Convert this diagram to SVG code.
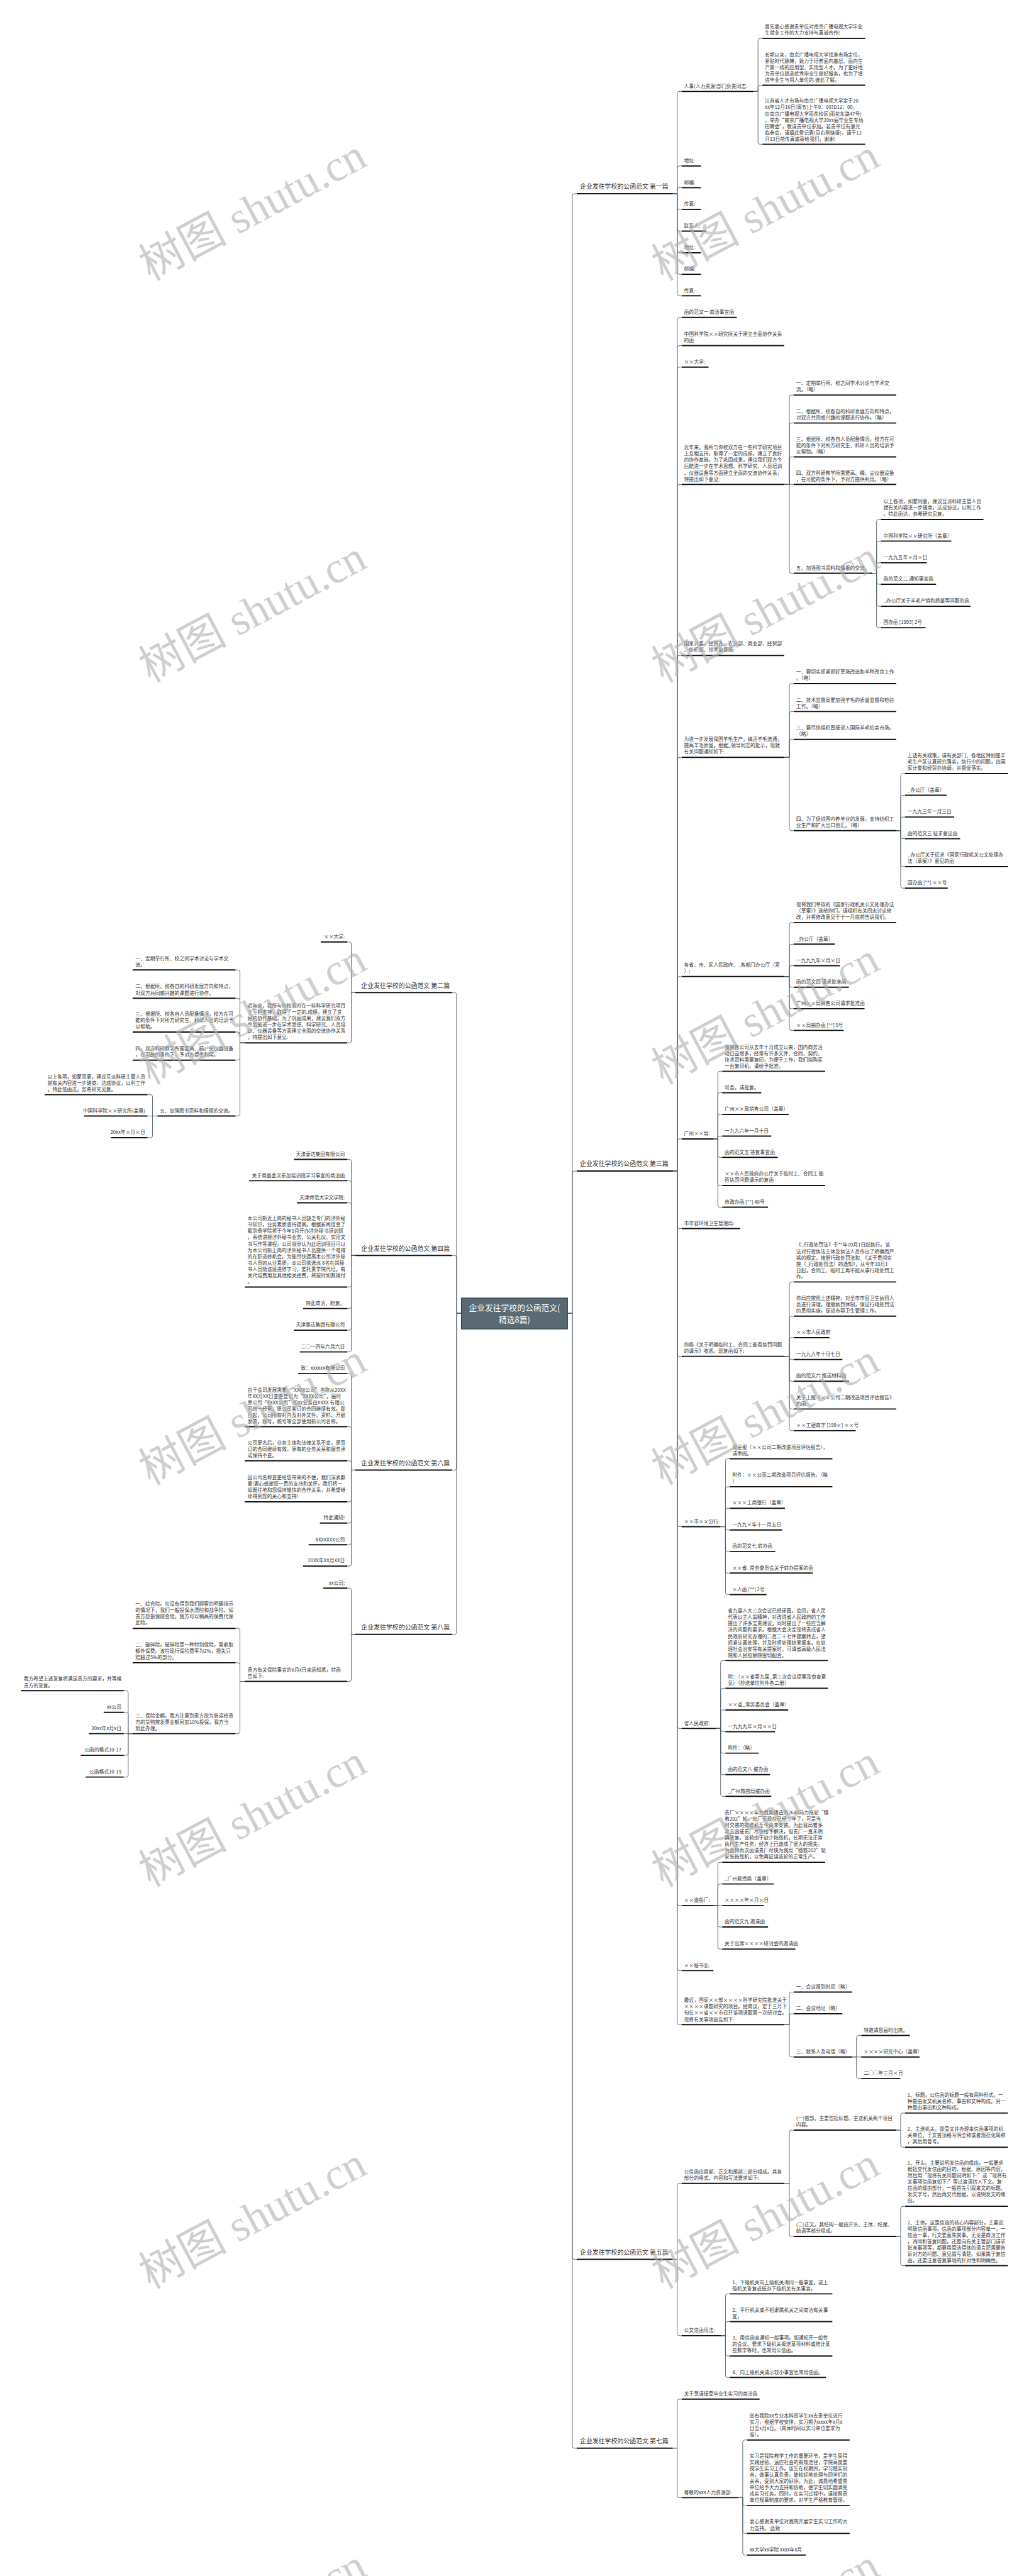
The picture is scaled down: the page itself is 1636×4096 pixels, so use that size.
<svg xmlns="http://www.w3.org/2000/svg" width="1636" height="4096" viewBox="0 0 1636 4096">
<style>
.t{font-family:"Noto Sans CJK SC","Liberation Sans",sans-serif;font-size:12.2px;fill:#333}
.e{text-anchor:end}
.h{font-size:15.5px}
.u{stroke:#111;stroke-width:3}
.c{fill:none;stroke:#4e5d66;stroke-width:1.4}
.wm{font-family:"Liberation Serif","Noto Sans CJK SC",serif;font-size:110px;fill:#b0b0b0;opacity:.6;text-anchor:middle}
</style>
<rect width="1636" height="4096" fill="#fff"/>
<g transform="scale(0.639)">
<g id="connectors">
<path class="c" d="M1412 3268H1424V487Q1424 482 1429 482H1435M1412 3268H1424V2919Q1424 2914 1429 2914H1435M1412 3268H1424V5617Q1424 5622 1429 5622H1435M1412 3268H1424V6087Q1424 6092 1429 6092H1435"/>
<path class="c" d="M1148 3268H1136V2475Q1136 2470 1131 2470H1125M1148 3268H1136V3129Q1136 3124 1131 3124H1125M1148 3268H1136V3653Q1136 3658 1131 3658H1125M1148 3268H1136V4062Q1136 4067 1131 4067H1125"/>
<path class="c" d="M1674 482H1685V232.5Q1685 227.5 1690 227.5H1696M1674 482H1685V418Q1685 413 1690 413H1696M1674 482H1685V472Q1685 467 1690 467H1696M1674 482H1685V516Q1685 521 1690 521H1696M1674 482H1685V570Q1685 575 1690 575H1696M1674 482H1685V624Q1685 629 1690 629H1696M1674 482H1685V677.5Q1685 682.5 1690 682.5H1696M1674 482H1685V731Q1685 736 1690 736H1696"/>
<path class="c" d="M1875 227.5H1886V100.7Q1886 95.7 1891 95.7H1897M1875 227.5H1886V217Q1886 212 1891 212H1897M1875 227.5H1886V354Q1886 359 1891 359H1897"/>
<path class="c" d="M1674 2914H1685V795Q1685 790 1690 790H1696M1674 2914H1685V865Q1685 860 1690 860H1696M1674 2914H1685V918.5Q1685 913.5 1690 913.5H1696M1674 2914H1685V1210.5Q1685 1205.5 1690 1205.5H1696M1674 2914H1685V1636Q1685 1631 1690 1631H1696M1674 2914H1685V1889.5Q1685 1884.5 1690 1884.5H1696M1674 2914H1685V2435Q1685 2430 1690 2430H1696M1674 2914H1685V2839Q1685 2834 1690 2834H1696M1674 2914H1685V3052Q1685 3057 1690 3057H1696M1674 2914H1685V3370Q1685 3375 1690 3375H1696M1674 2914H1685V3794Q1685 3799 1690 3799H1696M1674 2914H1685V4296Q1685 4301 1690 4301H1696M1674 2914H1685V4736.6Q1685 4741.6 1690 4741.6H1696M1674 2914H1685V4898.6Q1685 4903.6 1690 4903.6H1696M1674 2914H1685V5033Q1685 5038 1690 5038H1696"/>
<path class="c" d="M1951 1205.5H1964V988Q1964 983 1969 983H1975M1951 1205.5H1964V1057.6Q1964 1052.6 1969 1052.6H1975M1951 1205.5H1964V1142Q1964 1137 1969 1137H1975M1951 1205.5H1975M1951 1205.5H1964V1421.5Q1964 1426.5 1969 1426.5H1975"/>
<path class="c" d="M2170 1426.5H2181V1297.7Q2181 1292.7 2186 1292.7H2192M2170 1426.5H2181V1351.5Q2181 1346.5 2186 1346.5H2192M2170 1426.5H2181V1405.4Q2181 1400.4 2186 1400.4H2192M2170 1426.5H2181V1448.8Q2181 1453.8 2186 1453.8H2192M2170 1426.5H2181V1503.7Q2181 1508.7 2186 1508.7H2192M2170 1426.5H2181V1557Q2181 1562 2186 1562H2192"/>
<path class="c" d="M1951 1884.5H1964V1706Q1964 1701 1969 1701H1975M1951 1884.5H1964V1775.5Q1964 1770.5 1969 1770.5H1975M1951 1884.5H1964V1845Q1964 1840 1969 1840H1975M1951 1884.5H1964V2062Q1964 2067 1969 2067H1975"/>
<path class="c" d="M2230 2067H2241V1930Q2241 1925 2246 1925H2252M2230 2067H2241V1984Q2241 1979 2246 1979H2252M2230 2067H2241V2038Q2241 2033 2246 2033H2252M2230 2067H2241V2082Q2241 2087 2246 2087H2252M2230 2067H2241V2151.5Q2241 2156.5 2246 2156.5H2252M2230 2067H2241V2205Q2241 2210 2246 2210H2252"/>
<path class="c" d="M1951 2430H1964V2300.6Q1964 2295.6 1969 2295.6H1975M1951 2430H1964V2354.5Q1964 2349.5 1969 2349.5H1975M1951 2430H1964V2408Q1964 2403 1969 2403H1975M1951 2430H1964V2451.5Q1964 2456.5 1969 2456.5H1975M1951 2430H1964V2505Q1964 2510 1969 2510H1975M1951 2430H1964V2559Q1964 2564 1969 2564H1975"/>
<path class="c" d="M1775 2834H1786V2670.7Q1786 2665.7 1791 2665.7H1797M1775 2834H1786V2724Q1786 2719 1791 2719H1797M1775 2834H1786V2778Q1786 2773 1791 2773H1797M1775 2834H1786V2832Q1786 2827 1791 2827H1797M1775 2834H1786V2875Q1786 2880 1791 2880H1797M1775 2834H1786V2945Q1786 2950 1791 2950H1797M1775 2834H1786V2999Q1786 3004 1791 3004H1797"/>
<path class="c" d="M1951 3375H1964V3195Q1964 3190 1969 3190H1975M1951 3375H1964V3280Q1964 3275 1969 3275H1975M1951 3375H1964V3333.7Q1964 3328.7 1969 3328.7H1975M1951 3375H1964V3378Q1964 3383 1969 3383H1975M1951 3375H1964V3432Q1964 3437 1969 3437H1975M1951 3375H1964V3501Q1964 3506 1969 3506H1975M1951 3375H1964V3555Q1964 3560 1969 3560H1975"/>
<path class="c" d="M1792 3799H1805V3635Q1805 3630 1810 3630H1816M1792 3799H1805V3704.5Q1805 3699.5 1810 3699.5H1816M1792 3799H1805V3758Q1805 3753 1810 3753H1816M1792 3799H1805V3802Q1805 3807 1810 3807H1816M1792 3799H1805V3855.5Q1805 3860.5 1810 3860.5H1816M1792 3799H1805V3909.4Q1805 3914.4 1810 3914.4H1816M1792 3799H1805V3963Q1805 3968 1810 3968H1816"/>
<path class="c" d="M1781 4301H1793V4137Q1793 4132 1798 4132H1805M1781 4301H1793V4206Q1793 4201 1798 4201H1805M1781 4301H1793V4260Q1793 4255 1798 4255H1805M1781 4301H1793V4304Q1793 4309 1798 4309H1805M1781 4301H1793V4357.5Q1793 4362.5 1798 4362.5H1805M1781 4301H1793V4411Q1793 4416 1798 4416H1805M1781 4301H1793V4465Q1793 4470 1798 4470H1805"/>
<path class="c" d="M1775 4741.6H1786V4639Q1786 4634 1791 4634H1797M1775 4741.6H1786V4693Q1786 4688 1791 4688H1797M1775 4741.6H1797M1775 4741.6H1786V4790Q1786 4795 1791 4795H1797M1775 4741.6H1786V4845Q1786 4850 1791 4850H1797"/>
<path class="c" d="M1951 5038H1964V4962Q1964 4957 1969 4957H1975M1951 5038H1964V5016Q1964 5011 1969 5011H1975M1951 5038H1964V5113.5Q1964 5118.5 1969 5118.5H1975"/>
<path class="c" d="M2120 5118.5H2131V5070Q2131 5065 2136 5065H2143M2120 5118.5H2143M2120 5118.5H2131V5167Q2131 5172 2136 5172H2143"/>
<path class="c" d="M1674 5622H1685V5438Q1685 5433 1690 5433H1696M1674 5622H1685V5807Q1685 5812 1690 5812H1696"/>
<path class="c" d="M1951 5433H1964V5305.5Q1964 5300.5 1969 5300.5H1975M1951 5433H1964V5560Q1964 5565 1969 5565H1975"/>
<path class="c" d="M2230 5300.5H2241V5263Q2241 5258 2246 5258H2252M2230 5300.5H2241V5338Q2241 5343 2246 5343H2252"/>
<path class="c" d="M2230 5565H2241V5495Q2241 5490 2246 5490H2252M2230 5565H2241V5632.7Q2241 5637.7 2246 5637.7H2252"/>
<path class="c" d="M1794 5812H1805V5713Q1805 5708 1810 5708H1816M1794 5812H1805V5782Q1805 5777 1810 5777H1816M1794 5812H1805V5857.6Q1805 5862.6 1810 5862.6H1816M1794 5812H1805V5911Q1805 5916 1810 5916H1816"/>
<path class="c" d="M1674 6092H1685V5975Q1685 5970 1690 5970H1696M1674 6092H1685V6210Q1685 6215 1690 6215H1696"/>
<path class="c" d="M1837 6215H1848V6076.5Q1848 6071.5 1853 6071.5H1859M1837 6215H1848V6230Q1848 6235 1853 6235H1859M1837 6215H1848V6299Q1848 6304 1853 6304H1859M1837 6215H1848V6353Q1848 6358 1853 6358H1859"/>
<path class="c" d="M884 2470H874V2349Q874 2344 869 2344H864M884 2470H874V2590Q874 2595 869 2595H864"/>
<path class="c" d="M609 2595H597V2418.6Q597 2413.6 592 2413.6H586M609 2595H597V2489Q597 2484 592 2484H586M609 2595H597V2573Q597 2568 592 2568H586M609 2595H597V2633Q597 2638 592 2638H586M609 2595H597V2772Q597 2777 592 2777H586"/>
<path class="c" d="M392 2777H379.5V2729Q379.5 2724 374.5 2724H367M392 2777H367M392 2777H379.5V2826Q379.5 2831 374.5 2831H367"/>
<path class="c" d="M884 3124H874V2890Q874 2885 869 2885H864M884 3124H874V2943Q874 2938 869 2938H864M884 3124H874V2998Q874 2993 869 2993H864M884 3124H874V3197.6Q874 3202.6 869 3202.6H864M884 3124H874V3251Q874 3256 869 3256H864M884 3124H874V3305Q874 3310 869 3310H864M884 3124H874V3359Q874 3364 869 3364H864"/>
<path class="c" d="M884 3658H874V3423Q874 3418 869 3418H864M884 3658H874V3555Q874 3550 869 3550H864M884 3658H874V3640Q874 3635 869 3635H864M884 3658H874V3732Q874 3737 869 3737H864M884 3658H874V3785Q874 3790 869 3790H864M884 3658H874V3839Q874 3844 869 3844H864M884 3658H874V3892Q874 3897 869 3897H864"/>
<path class="c" d="M884 4067H874V3957Q874 3952 869 3952H864M884 4067H874V4179Q874 4184 869 4184H864"/>
<path class="c" d="M609 4184H597V4057Q597 4052 592 4052H586M609 4184H597V4142.5Q597 4137.5 592 4137.5H586M609 4184H597V4309Q597 4314 592 4314H586"/>
<path class="c" d="M330 4314H319V4212Q319 4207 314 4207H308M330 4314H319V4266Q319 4261 314 4261H308M330 4314H308M330 4314H319V4363Q319 4368 314 4368H308M330 4314H319V4417Q319 4422 314 4422H308"/>
</g>

<g id="center"><rect x="1148" y="3230" width="264" height="77" fill="#5a6a73" stroke="#36434a" stroke-width="2"/><text x="1280" y="3262" text-anchor="middle" style="font-family:'Noto Sans CJK SC',sans-serif;font-size:20px;fill:#fff"><tspan x="1280" y="3262">企业发往学校的公函范文(</tspan><tspan x="1280" y="3291">精选8篇)</tspan></text></g>

<g id="p1"><text class="t h" x="1443" y="470">企业发往学校的公函范文 第一篇</text><line class="u" x1="1435" y1="482" x2="1674" y2="482"/></g>
<g id="p3"><text class="t h" x="1443" y="2902">企业发往学校的公函范文 第三篇</text><line class="u" x1="1435" y1="2914" x2="1674" y2="2914"/></g>
<g id="p5"><text class="t h" x="1443" y="5610">企业发往学校的公函范文 第五篇</text><line class="u" x1="1435" y1="5622" x2="1674" y2="5622"/></g>
<g id="p7"><text class="t h" x="1443" y="6080">企业发往学校的公函范文 第七篇</text><line class="u" x1="1435" y1="6092" x2="1674" y2="6092"/></g>
<g id="p2"><text class="t h e" x="1119" y="2458">企业发往学校的公函范文 第二篇</text><line class="u" x1="884" y1="2470" x2="1125" y2="2470"/></g>
<g id="p4"><text class="t h e" x="1119" y="3112">企业发往学校的公函范文 第四篇</text><line class="u" x1="884" y1="3124" x2="1125" y2="3124"/></g>
<g id="p6"><text class="t h e" x="1119" y="3646">企业发往学校的公函范文 第六篇</text><line class="u" x1="884" y1="3658" x2="1125" y2="3658"/></g>
<g id="p8"><text class="t h e" x="1119" y="4055">企业发往学校的公函范文 第八篇</text><line class="u" x1="884" y1="4067" x2="1125" y2="4067"/></g>

<g id="a1"><text class="t" x="1702" y="218.5">人事(人力资源)部门负责同志:</text><line class="u" x1="1696" y1="227.5" x2="1875" y2="227.5"/></g>
<g id="a1a"><text class="t" x="1903" y="71"><tspan x="1903">首先衷心感谢贵单位对南京广播电视大学毕业</tspan><tspan x="1903" dy="15.7">生就业工作的大力支持与真诚合作!</tspan></text><line class="u" x1="1897" y1="95.7" x2="2153" y2="95.7"/></g>
<g id="a1b"><text class="t" x="1903" y="140.2"><tspan x="1903">长期以来，南京广播电视大学找准市场定位，</tspan><tspan x="1903" dy="15.7">紧贴时代脉搏，致力于培养面向基层、面向生</tspan><tspan x="1903" dy="15.7">产第一线的应用型、实用型人才。为了更好地</tspan><tspan x="1903" dy="15.7">为贵单位挑选优秀毕业生做好服务，也为了增</tspan><tspan x="1903" dy="15.7">进毕业生与用人单位的.彼此了解。</tspan></text><line class="u" x1="1897" y1="212" x2="2153" y2="212"/></g>
<g id="a1c"><text class="t" x="1903" y="255.8"><tspan x="1903">江苏省人才市场与南京广播电视大学定于20</tspan><tspan x="1903" dy="15.7">xx年12月16日(周五)上午9：00?D12：00，</tspan><tspan x="1903" dy="15.7">在南京广播电视大学雨花校区(雨花东路47号)</tspan><tspan x="1903" dy="15.7">，举办“南京广播电视大学20xx届毕业生专场</tspan><tspan x="1903" dy="15.7">招聘会”，敬请贵单位参加。若贵单位有意光</tspan><tspan x="1903" dy="15.7">临参会，请填此登记表(见右侧链接)，请于12</tspan><tspan x="1903" dy="15.7">月13日前传真或寄给我们，谢谢!</tspan></text><line class="u" x1="1897" y1="359" x2="2153" y2="359"/></g>
<g id="a2"><text class="t" x="1702" y="404">地址:</text><line class="u" x1="1696" y1="413" x2="1744" y2="413"/></g>
<g id="a3"><text class="t" x="1702" y="458">邮编:</text><line class="u" x1="1696" y1="467" x2="1744" y2="467"/></g>
<g id="a4"><text class="t" x="1702" y="512">传真:</text><line class="u" x1="1696" y1="521" x2="1744" y2="521"/></g>
<g id="a5"><text class="t" x="1702" y="566">联系人:</text><line class="u" x1="1696" y1="575" x2="1757" y2="575"/></g>
<g id="a6"><text class="t" x="1702" y="620">地址:</text><line class="u" x1="1696" y1="629" x2="1744" y2="629"/></g>
<g id="a7"><text class="t" x="1702" y="673.5">邮编:</text><line class="u" x1="1696" y1="682.5" x2="1744" y2="682.5"/></g>
<g id="a8"><text class="t" x="1702" y="727">传真:</text><line class="u" x1="1696" y1="736" x2="1744" y2="736"/></g>

<g id="b1"><text class="t" x="1702" y="781">函的范文一 商洽事宜函</text><line class="u" x1="1696" y1="790" x2="1833" y2="790"/></g>
<g id="b2"><text class="t" x="1702" y="835.3"><tspan x="1702">中国科学院××研究所关于建立全面协作关系</tspan><tspan x="1702" dy="15.7">的函</tspan></text><line class="u" x1="1696" y1="860" x2="1951" y2="860"/></g>
<g id="b3"><text class="t" x="1702" y="904.5">××大学:</text><line class="u" x1="1696" y1="913.5" x2="1763" y2="913.5"/></g>
<g id="b4"><text class="t" x="1702" y="1118"><tspan x="1702">近年来，我所与你校双方在一些科学研究项目</tspan><tspan x="1702" dy="15.7">上互相支持，取得了一定的成绩，建立了良好</tspan><tspan x="1702" dy="15.7">的协作基础。为了巩固成果，建议我们双方今</tspan><tspan x="1702" dy="15.7">后能进一步在学术思想、科学研究、人员培训</tspan><tspan x="1702" dy="15.7">、仪器设备等方面建立全面的交流协作关系，</tspan><tspan x="1702" dy="15.7">特提出如下意见:</tspan></text><line class="u" x1="1696" y1="1205.5" x2="1951" y2="1205.5"/></g>
<g id="b4a"><text class="t" x="1981" y="958.3"><tspan x="1981">一、定期举行所、校之间学术讨论与学术交</tspan><tspan x="1981" dy="15.7">流。（略）</tspan></text><line class="u" x1="1975" y1="983" x2="2230" y2="983"/></g>
<g id="b4b"><text class="t" x="1981" y="1027.9"><tspan x="1981">二、根据所、校各自的科研发展方向和特点，</tspan><tspan x="1981" dy="15.7">对双方共同感兴趣的课题进行协作。（略）</tspan></text><line class="u" x1="1975" y1="1052.6" x2="2230" y2="1052.6"/></g>
<g id="b4c"><text class="t" x="1981" y="1096.6"><tspan x="1981">三、根据所、校各自人员配备情况，校方在可</tspan><tspan x="1981" dy="15.7">能的条件下对所方研究生、科研人员的培训予</tspan><tspan x="1981" dy="15.7">以帮助。（略）</tspan></text><line class="u" x1="1975" y1="1137" x2="2230" y2="1137"/></g>
<g id="b4d"><text class="t" x="1981" y="1180.8"><tspan x="1981">四、双方科研教学所需要高、精、尖仪器设备</tspan><tspan x="1981" dy="15.7">，在可能的条件下，予对方提供利用。（略）</tspan></text><line class="u" x1="1975" y1="1205.5" x2="2230" y2="1205.5"/></g>
<g id="b4e"><text class="t" x="1981" y="1417.5">五、加强图书资料和情报的交流。</text><line class="u" x1="1975" y1="1426.5" x2="2170" y2="1426.5"/></g>
<g id="b4e1"><text class="t" x="2198" y="1252.3"><tspan x="2198">以上各项，如蒙同意，建议互派科研主管人员</tspan><tspan x="2198" dy="15.7">就有关内容进一步磋商，达成协议，以利工作</tspan><tspan x="2198" dy="15.7">。特此函达，务希研究见复。</tspan></text><line class="u" x1="2192" y1="1292.7" x2="2447" y2="1292.7"/></g>
<g id="b4e2"><text class="t" x="2198" y="1337.5">中国科学院××研究所（盖章）</text><line class="u" x1="2192" y1="1346.5" x2="2367" y2="1346.5"/></g>
<g id="b4e3"><text class="t" x="2198" y="1391.4">一九九五年×月×日</text><line class="u" x1="2192" y1="1400.4" x2="2306" y2="1400.4"/></g>
<g id="b4e4"><text class="t" x="2198" y="1444.8">函的范文二 通知事宜函</text><line class="u" x1="2192" y1="1453.8" x2="2329" y2="1453.8"/></g>
<g id="b4e5"><text class="t" x="2198" y="1499.7">_办公厅关于羊毛产销和质量等问题的函</text><line class="u" x1="2192" y1="1508.7" x2="2415" y2="1508.7"/></g>
<g id="b4e6"><text class="t" x="2198" y="1553">国办函 [1993] 2号</text><line class="u" x1="2192" y1="1562" x2="2303" y2="1562"/></g>
<g id="b5"><text class="t" x="1702" y="1606.3"><tspan x="1702">国家计委、经贸办、农业部、商业部、经贸部</tspan><tspan x="1702" dy="15.7">、纺织部、技术监督局:</tspan></text><line class="u" x1="1696" y1="1631" x2="1951" y2="1631"/></g>
<g id="b6"><text class="t" x="1702" y="1844.1"><tspan x="1702">为进一步发展我国羊毛生产，搞活羊毛流通，</tspan><tspan x="1702" dy="15.7">提高羊毛质量，根据_领导同志的批示，现就</tspan><tspan x="1702" dy="15.7">有关问题通知如下:</tspan></text><line class="u" x1="1696" y1="1884.5" x2="1951" y2="1884.5"/></g>
<g id="b6a"><text class="t" x="1981" y="1676.3"><tspan x="1981">一、要切实抓紧抓好草场改造和羊种改良工作</tspan><tspan x="1981" dy="15.7">。（略）</tspan></text><line class="u" x1="1975" y1="1701" x2="2230" y2="1701"/></g>
<g id="b6b"><text class="t" x="1981" y="1745.8"><tspan x="1981">二、技术监督局要加强羊毛的质量监督和检验</tspan><tspan x="1981" dy="15.7">工作。（略）</tspan></text><line class="u" x1="1975" y1="1770.5" x2="2230" y2="1770.5"/></g>
<g id="b6c"><text class="t" x="1981" y="1815.3"><tspan x="1981">三、要尽快组织直接进入国际羊毛拍卖市场。</tspan><tspan x="1981" dy="15.7">（略）</tspan></text><line class="u" x1="1975" y1="1840" x2="2230" y2="1840"/></g>
<g id="b6d"><text class="t" x="1981" y="2042.3"><tspan x="1981">四、为了促进国内养羊业的发展，支持纺织工</tspan><tspan x="1981" dy="15.7">业生产和扩大出口创汇。（略）</tspan></text><line class="u" x1="1975" y1="2067" x2="2230" y2="2067"/></g>
<g id="b6d1"><text class="t" x="2258" y="1884.6"><tspan x="2258">上述有关政策，请有关部门、各地区特别是羊</tspan><tspan x="2258" dy="15.7">毛生产区认真研究落实，执行中的问题，由国</tspan><tspan x="2258" dy="15.7">家计委和经贸办协调，并督促落实。</tspan></text><line class="u" x1="2252" y1="1925" x2="2508" y2="1925"/></g>
<g id="b6d2"><text class="t" x="2258" y="1970">_办公厅（盖章）</text><line class="u" x1="2252" y1="1979" x2="2355" y2="1979"/></g>
<g id="b6d3"><text class="t" x="2258" y="2024">一九九三年一月三日</text><line class="u" x1="2252" y1="2033" x2="2374" y2="2033"/></g>
<g id="b6d4"><text class="t" x="2258" y="2078">函的范文三 征求意见函</text><line class="u" x1="2252" y1="2087" x2="2389" y2="2087"/></g>
<g id="b6d5"><text class="t" x="2258" y="2131.8"><tspan x="2258">_办公厅关于征求《国家行政机关公文处理办</tspan><tspan x="2258" dy="15.7">法（草案）》意见的函</tspan></text><line class="u" x1="2252" y1="2156.5" x2="2508" y2="2156.5"/></g>
<g id="b6d6"><text class="t" x="2258" y="2201">国办函 [**] ××号</text><line class="u" x1="2252" y1="2210" x2="2358" y2="2210"/></g>
<g id="b7"><text class="t" x="1702" y="2405.3"><tspan x="1702">各省、市、区人民政府、_各部门办公厅（室</tspan><tspan x="1702" dy="15.7">）:</tspan></text><line class="u" x1="1696" y1="2430" x2="1951" y2="2430"/></g>
<g id="b7a"><text class="t" x="1981" y="2255.2"><tspan x="1981">现将我们草拟的《国家行政机关公文处理办法</tspan><tspan x="1981" dy="15.7">（草案）》送给你们，请组织有关同志讨论修</tspan><tspan x="1981" dy="15.7">改，并将修改意见于十一月底前告诉我们。</tspan></text><line class="u" x1="1975" y1="2295.6" x2="2230" y2="2295.6"/></g>
<g id="b7b"><text class="t" x="1981" y="2340.5">_办公厅（盖章）</text><line class="u" x1="1975" y1="2349.5" x2="2077" y2="2349.5"/></g>
<g id="b7c"><text class="t" x="1981" y="2394">一九九九年×月×日</text><line class="u" x1="1975" y1="2403" x2="2090" y2="2403"/></g>
<g id="b7d"><text class="t" x="1981" y="2447.5">函的范文四 请求批准函</text><line class="u" x1="1975" y1="2456.5" x2="2112" y2="2456.5"/></g>
<g id="b7e"><text class="t" x="1981" y="2501">广州××局销售公司请求批准函</text><line class="u" x1="1975" y1="2510" x2="2151" y2="2510"/></g>
<g id="b7f"><text class="t" x="1981" y="2555">××局销办函 [**] 5号</text><line class="u" x1="1975" y1="2564" x2="2099" y2="2564"/></g>
<g id="b8"><text class="t" x="1702" y="2825">广州××局:</text><line class="u" x1="1696" y1="2834" x2="1775" y2="2834"/></g>
<g id="b8a"><text class="t" x="1803" y="2609.6"><tspan x="1803">我销售公司从去年十月成立以来，国内商务活</tspan><tspan x="1803" dy="15.7">动日益增多，经常有许多文件、合同、契约、</tspan><tspan x="1803" dy="15.7">技术资料需要复印，为便于工作，我们拟购买</tspan><tspan x="1803" dy="15.7">一台复印机，请给予批准。</tspan></text><line class="u" x1="1797" y1="2665.7" x2="2053" y2="2665.7"/></g>
<g id="b8b"><text class="t" x="1803" y="2710">可否，请批复。</text><line class="u" x1="1797" y1="2719" x2="1894" y2="2719"/></g>
<g id="b8c"><text class="t" x="1803" y="2764">广州××局销售公司（盖章）</text><line class="u" x1="1797" y1="2773" x2="1962" y2="2773"/></g>
<g id="b8d"><text class="t" x="1803" y="2818">一九九六年一月十日</text><line class="u" x1="1797" y1="2827" x2="1919" y2="2827"/></g>
<g id="b8e"><text class="t" x="1803" y="2871">函的范文五 答复事宜函</text><line class="u" x1="1797" y1="2880" x2="1935" y2="2880"/></g>
<g id="b8f"><text class="t" x="1803" y="2925.3"><tspan x="1803">××市人民政府办公厅关于临时工、合同工 能</tspan><tspan x="1803" dy="15.7">否执罚问题请示的复函</tspan></text><line class="u" x1="1797" y1="2950" x2="2053" y2="2950"/></g>
<g id="b8g"><text class="t" x="1803" y="2995">市政办函 [**] 40号</text><line class="u" x1="1797" y1="3004" x2="1911" y2="3004"/></g>
<g id="b9"><text class="t" x="1702" y="3048">市市容环境卫生管理局:</text><line class="u" x1="1696" y1="3057" x2="1842" y2="3057"/></g>
<g id="b10"><text class="t" x="1702" y="3350.3"><tspan x="1702">你局《关于明确临时工、合同工能否执罚问题</tspan><tspan x="1702" dy="15.7">的请示》收悉。现复函如下:</tspan></text><line class="u" x1="1696" y1="3375" x2="1951" y2="3375"/></g>
<g id="b10a"><text class="t" x="1981" y="3102.5"><tspan x="1981">《_行政处罚法》于**年10月1日起执行。该</tspan><tspan x="1981" dy="15.7">法对行政执法主体及执法人员作出了明确而严</tspan><tspan x="1981" dy="15.7">格的规定。按照行政处罚法和_《关于贯彻实</tspan><tspan x="1981" dy="15.7">施〈_行政处罚法〉的通知》，从今年10月1</tspan><tspan x="1981" dy="15.7">日起，合同工、临时工再不能从事行政处罚工</tspan><tspan x="1981" dy="15.7">作。</tspan></text><line class="u" x1="1975" y1="3190" x2="2230" y2="3190"/></g>
<g id="b10b"><text class="t" x="1981" y="3234.6"><tspan x="1981">你局应按照上述精神，对全市市容卫生执罚人</tspan><tspan x="1981" dy="15.7">员进行清理，理顺执罚体制，保证行政处罚法</tspan><tspan x="1981" dy="15.7">的贯彻实施，促进市容卫生管理工作。</tspan></text><line class="u" x1="1975" y1="3275" x2="2230" y2="3275"/></g>
<g id="b10c"><text class="t" x="1981" y="3319.7">××市人民政府</text><line class="u" x1="1975" y1="3328.7" x2="2064" y2="3328.7"/></g>
<g id="b10d"><text class="t" x="1981" y="3374">一九九六年十月七日</text><line class="u" x1="1975" y1="3383" x2="2096" y2="3383"/></g>
<g id="b10e"><text class="t" x="1981" y="3428">函的范文六 报送材料函</text><line class="u" x1="1975" y1="3437" x2="2112" y2="3437"/></g>
<g id="b10f"><text class="t" x="1981" y="3481.3"><tspan x="1981">关于上报《××公司二期改造项目评估报告》</tspan><tspan x="1981" dy="15.7">的函</tspan></text><line class="u" x1="1975" y1="3506" x2="2230" y2="3506"/></g>
<g id="b10g"><text class="t" x="1981" y="3551">××工银商字 [199×] ××号</text><line class="u" x1="1975" y1="3560" x2="2129" y2="3560"/></g>
<g id="b11"><text class="t" x="1702" y="3790">××市××分行:</text><line class="u" x1="1696" y1="3799" x2="1792" y2="3799"/></g>
<g id="b11a"><text class="t" x="1822" y="3605.3"><tspan x="1822">现呈报〈××公司二期改造项目评估报告〉，</tspan><tspan x="1822" dy="15.7">请审阅。</tspan></text><line class="u" x1="1816" y1="3630" x2="2071" y2="3630"/></g>
<g id="b11b"><text class="t" x="1822" y="3674.8"><tspan x="1822">附件：××公司二期改造项目评估报告。（略</tspan><tspan x="1822" dy="15.7">）</tspan></text><line class="u" x1="1816" y1="3699.5" x2="2071" y2="3699.5"/></g>
<g id="b11c"><text class="t" x="1822" y="3744">×××工商银行（盖章）</text><line class="u" x1="1816" y1="3753" x2="1953" y2="3753"/></g>
<g id="b11d"><text class="t" x="1822" y="3798">一九九×年十一月五日</text><line class="u" x1="1816" y1="3807" x2="1946" y2="3807"/></g>
<g id="b11e"><text class="t" x="1822" y="3851.5">函的范文七 转办函</text><line class="u" x1="1816" y1="3860.5" x2="1929" y2="3860.5"/></g>
<g id="b11f"><text class="t" x="1822" y="3905.4">××省_常务委员会关于转办提案的函</text><line class="u" x1="1816" y1="3914.4" x2="2022" y2="3914.4"/></g>
<g id="b11g"><text class="t" x="1822" y="3959">×人函 [**] 2号</text><line class="u" x1="1816" y1="3968" x2="1907" y2="3968"/></g>
<g id="b12"><text class="t" x="1702" y="4292">省人民政府:</text><line class="u" x1="1696" y1="4301" x2="1781" y2="4301"/></g>
<g id="b12a"><text class="t" x="1811" y="4013.1"><tspan x="1811">省九届人大三次会议已经闭幕。会间，省人民</tspan><tspan x="1811" dy="15.7">代表以主人翁精神，对改进省人民政府的工作</tspan><tspan x="1811" dy="15.7">提出了许多宝贵建议，同时提出了一些应当解</tspan><tspan x="1811" dy="15.7">决的问题和要求。根据大会决定现将责成省人</tspan><tspan x="1811" dy="15.7">民政府研究办理的二百二十七件提案转去，望</tspan><tspan x="1811" dy="15.7">抓紧认真处理，并及时将处理结果报来。在处</tspan><tspan x="1811" dy="15.7">理社会治安等有关提案时，可请省高级人民法</tspan><tspan x="1811" dy="15.7">院和人民检察院密切配合。</tspan></text><line class="u" x1="1805" y1="4132" x2="2060" y2="4132"/></g>
<g id="b12b"><text class="t" x="1811" y="4176.3"><tspan x="1811">附：（××省第九届_第三次会议提案及审查意</tspan><tspan x="1811" dy="15.7">见）（抄送单位附件各二册）</tspan></text><line class="u" x1="1805" y1="4201" x2="2060" y2="4201"/></g>
<g id="b12c"><text class="t" x="1811" y="4246">××省_常务委员会（盖章）</text><line class="u" x1="1805" y1="4255" x2="1961" y2="4255"/></g>
<g id="b12d"><text class="t" x="1811" y="4300">一九九九年×月××日</text><line class="u" x1="1805" y1="4309" x2="1928" y2="4309"/></g>
<g id="b12e"><text class="t" x="1811" y="4353.5">附件：（略）</text><line class="u" x1="1805" y1="4362.5" x2="1888" y2="4362.5"/></g>
<g id="b12f"><text class="t" x="1811" y="4407">函的范文八 催办函</text><line class="u" x1="1805" y1="4416" x2="1916" y2="4416"/></g>
<g id="b12g"><text class="t" x="1811" y="4461">_广州救捞局催办函</text><line class="u" x1="1805" y1="4470" x2="1919" y2="4470"/></g>
<g id="b13"><text class="t" x="1702" y="4732.6">××造船厂:</text><line class="u" x1="1696" y1="4741.6" x2="1775" y2="4741.6"/></g>
<g id="b13a"><text class="t" x="1803" y="4515.1"><tspan x="1803">贵厂××××年为我局建造的2640马力拖轮“穗</tspan><tspan x="1803" dy="15.7">救202”轮，出厂至现在已经三年了，可是当</tspan><tspan x="1803" dy="15.7">时欠装的拖缆机至今尚未安装。为此我局曾多</tspan><tspan x="1803" dy="15.7">次去函催贵厂尽快给予解决，但贵厂一直未明</tspan><tspan x="1803" dy="15.7">确答复。该轮由于缺少拖缆机，长期无法正常</tspan><tspan x="1803" dy="15.7">执行生产任务，经济上已造成了很大的损失。</tspan><tspan x="1803" dy="15.7">为此特再次函请贵厂尽快为我局“穗救202”轮</tspan><tspan x="1803" dy="15.7">安装拖缆机，以免再延误该轮的正常生产。</tspan></text><line class="u" x1="1797" y1="4634" x2="2053" y2="4634"/></g>
<g id="b13b"><text class="t" x="1803" y="4679">_广州救捞局（盖章）</text><line class="u" x1="1797" y1="4688" x2="1925" y2="4688"/></g>
<g id="b13c"><text class="t" x="1803" y="4732.6">××××年×月×日</text><line class="u" x1="1797" y1="4741.6" x2="1900" y2="4741.6"/></g>
<g id="b13d"><text class="t" x="1803" y="4786">函的范文九 邀请函</text><line class="u" x1="1797" y1="4795" x2="1911" y2="4795"/></g>
<g id="b13e"><text class="t" x="1803" y="4841">关于出席××××研讨会的邀请函</text><line class="u" x1="1797" y1="4850" x2="1979" y2="4850"/></g>
<g id="b14"><text class="t" x="1702" y="4894.6">××秘书长:</text><line class="u" x1="1696" y1="4903.6" x2="1775" y2="4903.6"/></g>
<g id="b15"><text class="t" x="1702" y="4981.9"><tspan x="1702">最近，国家××部××××科学研究院批准关于</tspan><tspan x="1702" dy="15.7">××××课题研究的项目。经商议，定于三月下</tspan><tspan x="1702" dy="15.7">旬在××省××市召开该项课题第一次研讨会。</tspan><tspan x="1702" dy="15.7">现将有关事项函告如下:</tspan></text><line class="u" x1="1696" y1="5038" x2="1951" y2="5038"/></g>
<g id="b15a"><text class="t" x="1981" y="4948">一、会议报到时间（略）</text><line class="u" x1="1975" y1="4957" x2="2120" y2="4957"/></g>
<g id="b15b"><text class="t" x="1981" y="5002">二、会议地址（略）</text><line class="u" x1="1975" y1="5011" x2="2096" y2="5011"/></g>
<g id="b15c"><text class="t" x="1981" y="5109.5">三、联系人及电话（略）</text><line class="u" x1="1975" y1="5118.5" x2="2120" y2="5118.5"/></g>
<g id="b15c1"><text class="t" x="2149" y="5056">特邀请您届时出席。</text><line class="u" x1="2143" y1="5065" x2="2264" y2="5065"/></g>
<g id="b15c2"><text class="t" x="2149" y="5109.5">××××研究中心（盖章）</text><line class="u" x1="2143" y1="5118.5" x2="2288" y2="5118.5"/></g>
<g id="b15c3"><text class="t" x="2149" y="5163">二○○年三月×日</text><line class="u" x1="2143" y1="5172" x2="2240" y2="5172"/></g>

<g id="c1"><text class="t" x="1702" y="5408.3"><tspan x="1702">公信函由首部、正文和尾部三部分组成。其各</tspan><tspan x="1702" dy="15.7">部分的格式、内容和写法要求如下:</tspan></text><line class="u" x1="1696" y1="5433" x2="1951" y2="5433"/></g>
<g id="c1a"><text class="t" x="1981" y="5275.8"><tspan x="1981">(一)首部。主要包括标题、主送机关两个项目</tspan><tspan x="1981" dy="15.7">内容。</tspan></text><line class="u" x1="1975" y1="5300.5" x2="2230" y2="5300.5"/></g>
<g id="c1a1"><text class="t" x="2258" y="5217.6"><tspan x="2258">1、标题。公信函的标题一般有两种形式。一</tspan><tspan x="2258" dy="15.7">种是由发文机关名称、事由和文种构成。另一</tspan><tspan x="2258" dy="15.7">种是由事由和文种构成。</tspan></text><line class="u" x1="2252" y1="5258" x2="2508" y2="5258"/></g>
<g id="c1a2"><text class="t" x="2258" y="5302.6"><tspan x="2258">2、主送机关。即受文并办理来信函事项的机</tspan><tspan x="2258" dy="15.7">关单位，于文首顶格写明全称或者规范化简称</tspan><tspan x="2258" dy="15.7">，其后用冒号。</tspan></text><line class="u" x1="2252" y1="5343" x2="2508" y2="5343"/></g>
<g id="c1b"><text class="t" x="1981" y="5540.3"><tspan x="1981">(二)正文。其结构一般由开头、主体、结尾、</tspan><tspan x="1981" dy="15.7">结语等部分组成。</tspan></text><line class="u" x1="1975" y1="5565" x2="2230" y2="5565"/></g>
<g id="c1b1"><text class="t" x="2258" y="5386.8"><tspan x="2258">1、开头。主要说明发信函的缘由。一般要求</tspan><tspan x="2258" dy="15.7">概括交代发信函的目的、根据、原因等内容，</tspan><tspan x="2258" dy="15.7">然后用“现将有关问题说明如下:”或“现将有</tspan><tspan x="2258" dy="15.7">关事项信函复如下:”等过渡语转入下文。复</tspan><tspan x="2258" dy="15.7">信函的缘由部分，一般首先引叙来文的标题、</tspan><tspan x="2258" dy="15.7">发文字号，然后再交代根据，以说明发文的缘</tspan><tspan x="2258" dy="15.7">由。</tspan></text><line class="u" x1="2252" y1="5490" x2="2508" y2="5490"/></g>
<g id="c1b2"><text class="t" x="2258" y="5534.5"><tspan x="2258">2、主体。这是信函的核心内容部分，主要说</tspan><tspan x="2258" dy="15.7">明致信函事项。信函的事项部分内容单一，一</tspan><tspan x="2258" dy="15.7">信函一事，行文要直陈其事。无论是商洽工作</tspan><tspan x="2258" dy="15.7">，询问和答复问题，还是向有关主管部门请求</tspan><tspan x="2258" dy="15.7">批准事项等，都要用简洁得体的语言把需要告</tspan><tspan x="2258" dy="15.7">诉对方的问题、意见叙写清楚。如果属于复信</tspan><tspan x="2258" dy="15.7">函，还要注意答复事项的针对性和明确性。</tspan></text><line class="u" x1="2252" y1="5637.7" x2="2508" y2="5637.7"/></g>
<g id="c2"><text class="t" x="1702" y="5803">公文信函用法:</text><line class="u" x1="1696" y1="5812" x2="1794" y2="5812"/></g>
<g id="c2a"><text class="t" x="1822" y="5683.3"><tspan x="1822">1、下级机关向上级机关询问一般事宜，或上</tspan><tspan x="1822" dy="15.7">级机关答复或催办下级机关有关事宜。</tspan></text><line class="u" x1="1816" y1="5708" x2="2071" y2="5708"/></g>
<g id="c2b"><text class="t" x="1822" y="5752.3"><tspan x="1822">2、平行机关或不相隶属机关之间商洽有关事</tspan><tspan x="1822" dy="15.7">宜，</tspan></text><line class="u" x1="1816" y1="5777" x2="2071" y2="5777"/></g>
<g id="c2c"><text class="t" x="1822" y="5822.2"><tspan x="1822">3、用信函来通知一般事项。如通知开一般性</tspan><tspan x="1822" dy="15.7">的会议、要求下级机关报送某项材料或统计某</tspan><tspan x="1822" dy="15.7">些数字等时，也常用公信函。</tspan></text><line class="u" x1="1816" y1="5862.6" x2="2071" y2="5862.6"/></g>
<g id="c2d"><text class="t" x="1822" y="5907">4、向上级机关请示较小事宜也常用信函。</text><line class="u" x1="1816" y1="5916" x2="2055" y2="5916"/></g>

<g id="d1"><text class="t" x="1702" y="5961">关于恳请接受毕业生实习的商洽函</text><line class="u" x1="1696" y1="5970" x2="1890" y2="5970"/></g>
<g id="d2"><text class="t" x="1702" y="6206">尊敬的xxx人力资源部:</text><line class="u" x1="1696" y1="6215" x2="1837" y2="6215"/></g>
<g id="d2a"><text class="t" x="1865" y="6015.4"><tspan x="1865">兹有我院xx专业本科班学生xx去贵单位进行</tspan><tspan x="1865" dy="15.7">实习，根据学校安排，实习期为xxxx年x月x</tspan><tspan x="1865" dy="15.7">日至x月x日。（具体时间以实习单位要求为</tspan><tspan x="1865" dy="15.7">准）。</tspan></text><line class="u" x1="1859" y1="6071.5" x2="2114" y2="6071.5"/></g>
<g id="d2b"><text class="t" x="1865" y="6116.1"><tspan x="1865">实习是我院教学工作的重要环节，是学生获得</tspan><tspan x="1865" dy="15.7">实践经验、适应社会的有效途径，学院高度重</tspan><tspan x="1865" dy="15.7">视学生实习工作。该生在校期间，学习踏实刻</tspan><tspan x="1865" dy="15.7">苦，做事认真负责，能较好地处理与同学们的</tspan><tspan x="1865" dy="15.7">关系，受到大家的好评。为此，诚恳地希望贵</tspan><tspan x="1865" dy="15.7">单位给予大力支持和协助，使学生切实圆满完</tspan><tspan x="1865" dy="15.7">成实习任务。同时，在实习过程中，请按照贵</tspan><tspan x="1865" dy="15.7">单位规章制度的要求，对学生严格教育管理。</tspan></text><line class="u" x1="1859" y1="6235" x2="2114" y2="6235"/></g>
<g id="d2c"><text class="t" x="1865" y="6279.3"><tspan x="1865">衷心感谢贵单位对我院开展学生实习工作的大</tspan><tspan x="1865" dy="15.7">力支持。 此致</tspan></text><line class="u" x1="1859" y1="6304" x2="2114" y2="6304"/></g>
<g id="d2d"><text class="t" x="1865" y="6349">xx大学xx学院  xxxx年x月</text><line class="u" x1="1859" y1="6358" x2="2005" y2="6358"/></g>

<g id="e1"><text class="t e" x="858" y="2335">××大学:</text><line class="u" x1="798" y1="2344" x2="864" y2="2344"/></g>
<g id="e2"><text class="t" x="616" y="2507.5"><tspan x="616">近年来，我所与你校双方在一些科学研究项目</tspan><tspan x="616" dy="15.7">上互相支持，取得了一定的.成绩，建立了良</tspan><tspan x="616" dy="15.7">好的协作基础。为了巩固成果，建议我们双方</tspan><tspan x="616" dy="15.7">今后能进一步在学术思想、科学研究、人员培</tspan><tspan x="616" dy="15.7">训、仪器设备等方面建立全面的交流协作关系</tspan><tspan x="616" dy="15.7">，特提出如下意见:</tspan></text><line class="u" x1="609" y1="2595" x2="864" y2="2595"/></g>
<g id="e2a"><text class="t" x="337" y="2388.9"><tspan x="337">一、定期举行所、校之间学术讨论与学术交</tspan><tspan x="337" dy="15.7">流。</tspan></text><line class="u" x1="330" y1="2413.6" x2="586" y2="2413.6"/></g>
<g id="e2b"><text class="t" x="337" y="2459.3"><tspan x="337">二、根据所、校各自的科研发展方向和特点，</tspan><tspan x="337" dy="15.7">对双方共同感兴趣的课题进行协作。</tspan></text><line class="u" x1="330" y1="2484" x2="586" y2="2484"/></g>
<g id="e2c"><text class="t" x="337" y="2527.6"><tspan x="337">三、根据所、校各自人员配备情况，校方在可</tspan><tspan x="337" dy="15.7">能的条件下对所方研究生、科研人员的培训予</tspan><tspan x="337" dy="15.7">以帮助。</tspan></text><line class="u" x1="330" y1="2568" x2="586" y2="2568"/></g>
<g id="e2d"><text class="t" x="337" y="2613.3"><tspan x="337">四、双方科研教学所需要高、精、尖仪器设备</tspan><tspan x="337" dy="15.7">，在可能的条件下，予对方提供利用。</tspan></text><line class="u" x1="330" y1="2638" x2="586" y2="2638"/></g>
<g id="e2e"><text class="t e" x="580" y="2768">五、加强图书资料和情报的交流。</text><line class="u" x1="392" y1="2777" x2="586" y2="2777"/></g>
<g id="e2e1"><text class="t" x="118" y="2683.6"><tspan x="118">以上各项，如蒙同意，建议互派科研主管人员</tspan><tspan x="118" dy="15.7">就有关内容进一步磋商，达成协议，以利工作</tspan><tspan x="118" dy="15.7">。特此信函达，务希研究见复。</tspan></text><line class="u" x1="111" y1="2724" x2="367" y2="2724"/></g>
<g id="e2e2"><text class="t e" x="361" y="2768">中国科学院××研究所(盖章)</text><line class="u" x1="209" y1="2777" x2="367" y2="2777"/></g>
<g id="e2e3"><text class="t e" x="361" y="2822">20xx年×月×日</text><line class="u" x1="276" y1="2831" x2="367" y2="2831"/></g>

<g id="f1"><text class="t e" x="858" y="2876">天津泰达集团有限公司</text><line class="u" x1="731" y1="2885" x2="864" y2="2885"/></g>
<g id="f2"><text class="t e" x="858" y="2929">关于商量此次参加培训班学习事宜的商洽函</text><line class="u" x1="620" y1="2938" x2="864" y2="2938"/></g>
<g id="f3"><text class="t e" x="858" y="2984">天津师范大学文学院:</text><line class="u" x1="739" y1="2993" x2="864" y2="2993"/></g>
<g id="f4"><text class="t" x="616" y="3036.6"><tspan x="616">本公司新近上岗的秘书人员缺乏专门的涉外秘</tspan><tspan x="616" dy="15.7">书知识，业务素质亟待提高。根据新闻信息了</tspan><tspan x="616" dy="15.7">解到贵学院将于今年9月开办涉外秘书培训班</tspan><tspan x="616" dy="15.7">，系统讲授涉外秘书业务、公关礼仪、实用文</tspan><tspan x="616" dy="15.7">书写作等课程。公司领导认为此培训项目可以</tspan><tspan x="616" dy="15.7">为本公司新上岗的涉外秘书人员提供一个难得</tspan><tspan x="616" dy="15.7">的在职进修机会。为能尽快提高本公司涉外秘</tspan><tspan x="616" dy="15.7">书人员的从业素质，本公司欲选派 8名在岗秘</tspan><tspan x="616" dy="15.7">书人员随该班进修学习，委托贵学院代培。有</tspan><tspan x="616" dy="15.7">关代培费用及其他相关经费，将按时如数拨付</tspan><tspan x="616" dy="15.7">。</tspan></text><line class="u" x1="609" y1="3202.6" x2="864" y2="3202.6"/></g>
<g id="f5"><text class="t e" x="858" y="3247">特此商洽，盼复。</text><line class="u" x1="754" y1="3256" x2="864" y2="3256"/></g>
<g id="f6"><text class="t e" x="858" y="3301">天津泰达集团有限公司</text><line class="u" x1="731" y1="3310" x2="864" y2="3310"/></g>
<g id="f7"><text class="t e" x="858" y="3355">二○一四年六月六日</text><line class="u" x1="746" y1="3364" x2="864" y2="3364"/></g>

<g id="g1"><text class="t e" x="858" y="3409">致：xxxxxx有限公司</text><line class="u" x1="742" y1="3418" x2="864" y2="3418"/></g>
<g id="g2"><text class="t" x="616" y="3462.5"><tspan x="616">由于会司发展需要，“XXXX公司”名称从20XX</tspan><tspan x="616" dy="15.7">年XX月XX日变更登记为“XXXX公司”，届时</tspan><tspan x="616" dy="15.7">原公司“XXXX公司”的xx业务由XXXX 有限公</tspan><tspan x="616" dy="15.7">司统一经营，原公司鉴订的合同继续有效。即</tspan><tspan x="616" dy="15.7">日起，公司所有对内及对外文件、资料、开据</tspan><tspan x="616" dy="15.7">发票，账号，税号等全部使用新公司名称。</tspan></text><line class="u" x1="609" y1="3550" x2="864" y2="3550"/></g>
<g id="g3"><text class="t" x="616" y="3594.6"><tspan x="616">公司更名后，业务主体和法律关系不变，原签</tspan><tspan x="616" dy="15.7">订的合同继续有效，原有的业务关系和服务承</tspan><tspan x="616" dy="15.7">诺保持不变。</tspan></text><line class="u" x1="609" y1="3635" x2="864" y2="3635"/></g>
<g id="g4"><text class="t" x="616" y="3680.9"><tspan x="616">因公司名称变更给您带来的不便，我们深表歉</tspan><tspan x="616" dy="15.7">意!衷心感谢您一贯的支持和关怀，我们将一</tspan><tspan x="616" dy="15.7">如既往地和您保持愉快的合作关系，并希望继</tspan><tspan x="616" dy="15.7">续得到您的关心和支持!</tspan></text><line class="u" x1="609" y1="3737" x2="864" y2="3737"/></g>
<g id="g5"><text class="t e" x="858" y="3781">特此通知!</text><line class="u" x1="796" y1="3790" x2="864" y2="3790"/></g>
<g id="g6"><text class="t e" x="858" y="3835">XXXXXXX公司</text><line class="u" x1="768" y1="3844" x2="864" y2="3844"/></g>
<g id="g7"><text class="t e" x="858" y="3888">20XX年XX月XX日</text><line class="u" x1="754" y1="3897" x2="864" y2="3897"/></g>

<g id="h1"><text class="t e" x="858" y="3943">xx公司:</text><line class="u" x1="804" y1="3952" x2="864" y2="3952"/></g>
<g id="h2"><text class="t" x="616" y="4159.3"><tspan x="616">贵方有关保险事宜的6月x日来函知悉，特函</tspan><tspan x="616" dy="15.7">告如下:</tspan></text><line class="u" x1="609" y1="4184" x2="864" y2="4184"/></g>
<g id="h2a"><text class="t" x="337" y="3995.9"><tspan x="337">一、综合险。在没有得到我们顾客的明确指示</tspan><tspan x="337" dy="15.7">的情况下，我们一般投保水渍险和战争险。如</tspan><tspan x="337" dy="15.7">贵方愿投保综合险，我方可以稍高的保费代保</tspan><tspan x="337" dy="15.7">此险。</tspan></text><line class="u" x1="330" y1="4052" x2="586" y2="4052"/></g>
<g id="h2b"><text class="t" x="337" y="4097.1"><tspan x="337">二、破碎险。破碎险是一种特别保险，需收取</tspan><tspan x="337" dy="15.7">额外保费。该险现行保险费率为2%，损失只</tspan><tspan x="337" dy="15.7">赔超过5%的部分。</tspan></text><line class="u" x1="330" y1="4137.5" x2="586" y2="4137.5"/></g>
<g id="h2c"><text class="t" x="337" y="4273.6"><tspan x="337">三、保险金额。我方注意到贵方欲为装运给贵</tspan><tspan x="337" dy="15.7">方的货物按发票金额另加10%投保，我方当</tspan><tspan x="337" dy="15.7">照此办理。</tspan></text><line class="u" x1="330" y1="4314" x2="586" y2="4314"/></g>
<g id="h2c1"><text class="t" x="59" y="4182.3"><tspan x="59">我方希望上述答复将满足贵方的要求，并等候</tspan><tspan x="59" dy="15.7">贵方的答复。</tspan></text><line class="u" x1="52" y1="4207" x2="308" y2="4207"/></g>
<g id="h2c2"><text class="t e" x="302" y="4252">xx公司</text><line class="u" x1="258" y1="4261" x2="308" y2="4261"/></g>
<g id="h2c3"><text class="t e" x="302" y="4305">20xx年x月x日</text><line class="u" x1="221" y1="4314" x2="308" y2="4314"/></g>
<g id="h2c4"><text class="t e" x="302" y="4359">公函的格式10-17</text><line class="u" x1="201" y1="4368" x2="308" y2="4368"/></g>
<g id="h2c5"><text class="t e" x="302" y="4413">公函格式10-19</text><line class="u" x1="213" y1="4422" x2="308" y2="4422"/></g>

<g id="watermarks">
<text class="wm" transform="translate(646 555) rotate(-28)">树图 shutu.cn</text>
<text class="wm" transform="translate(1922 555) rotate(-28)">树图 shutu.cn</text>
<text class="wm" transform="translate(646 1555) rotate(-28)">树图 shutu.cn</text>
<text class="wm" transform="translate(1922 1555) rotate(-28)">树图 shutu.cn</text>
<text class="wm" transform="translate(646 2555) rotate(-28)">树图 shutu.cn</text>
<text class="wm" transform="translate(1922 2555) rotate(-28)">树图 shutu.cn</text>
<text class="wm" transform="translate(646 3552) rotate(-28)">树图 shutu.cn</text>
<text class="wm" transform="translate(1922 3552) rotate(-28)">树图 shutu.cn</text>
<text class="wm" transform="translate(646 4552) rotate(-28)">树图 shutu.cn</text>
<text class="wm" transform="translate(1922 4552) rotate(-28)">树图 shutu.cn</text>
<text class="wm" transform="translate(646 5552) rotate(-28)">树图 shutu.cn</text>
<text class="wm" transform="translate(1922 5552) rotate(-28)">树图 shutu.cn</text>
<text class="wm" transform="translate(646 6552) rotate(-28)">树图 shutu.cn</text>
<text class="wm" transform="translate(1922 6552) rotate(-28)">树图 shutu.cn</text>
</g>
</g>
</svg>
